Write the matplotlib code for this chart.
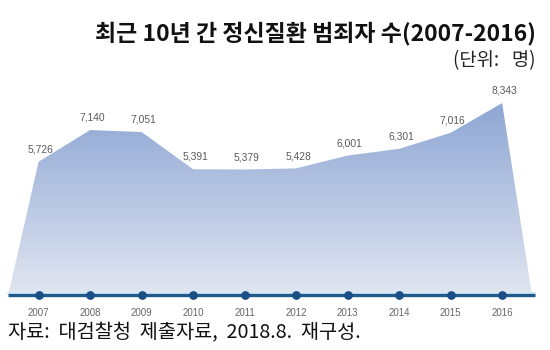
import numpy as np
import matplotlib.pyplot as plt
from matplotlib.colors import LinearSegmentedColormap

plt.rcParams['font.family'] = ['Noto Sans CJK KR', 'DejaVu Sans']

# 연도별 정신질환 범죄자 수
years = ['2007', '2008', '2009', '2010', '2011', '2012', '2013', '2014', '2015', '2016']
counts = [5726, 7140, 7051, 5391, 5379, 5428, 6001, 6301, 7016, 8343]

fig = plt.figure(figsize=(5.5, 3.5), dpi=100)
ax = fig.add_axes([0, 0, 1, 1])
ax.set_xlim(-0.75, 9.93)
ax.set_ylim(-2679, 12946)
ax.axis('off')

idx = np.arange(len(years))
# 면적 양 끝은 기준선까지 내려감
xs = np.concatenate([[-0.59], idx, [9.58]])
ys = np.concatenate([[-220], counts, [-220]])

poly = ax.fill_between(xs, ys, -220, color='none', lw=0)
grad = LinearSegmentedColormap.from_list('g', ['#e1e6f1', '#8ea6d4'])
img = ax.imshow(np.linspace(0, 1, 256).reshape(-1, 1), cmap=grad, aspect='auto',
                origin='lower', extent=[-0.6, 9.6, -220, max(counts)], zorder=1)
img.set_clip_path(poly.get_paths()[0], transform=ax.transData)

# 값 라벨
for i, v in enumerate(counts):
    ax.text(i + 0.04, v + 330, f'{v:,}', ha='center', va='bottom', fontsize=7.4,
            color='#5a5a5a', family='Liberation Sans', zorder=3)

# 기준선과 연도 점
ax.plot([-0.59, 9.64], [-120, -120], color='#d4ecf6', lw=1.5, zorder=2)
ax.plot([-0.59, 9.64], [-220, -220], color='#1e5a8c', lw=2.4, zorder=3,
        solid_capstyle='butt')
ax.scatter(idx, [-220] * len(idx), s=28, color='#1a4f86', zorder=4)
for i, y in enumerate(years):
    ax.text(i, -1020, y, ha='center', va='center', fontsize=7, color='#666666',
            family='Liberation Sans')

fig.text(0.975, 0.905, '최근 10년 간 정신질환 범죄자 수(2007-2016)', ha='right',
         va='center', fontsize=16.5, fontweight='bold', color='#111111')
fig.text(0.973, 0.827, '(단위:   명)', ha='right', va='center', fontsize=13.5,
         fontweight='light', color='#222222')
fig.text(0.015, 0.048, '자료:  대검찰청  제출자료,  2018.8.  재구성.', ha='left',
         va='center', fontsize=14.2, color='#111111')

fig.savefig('out.png', dpi=100)
